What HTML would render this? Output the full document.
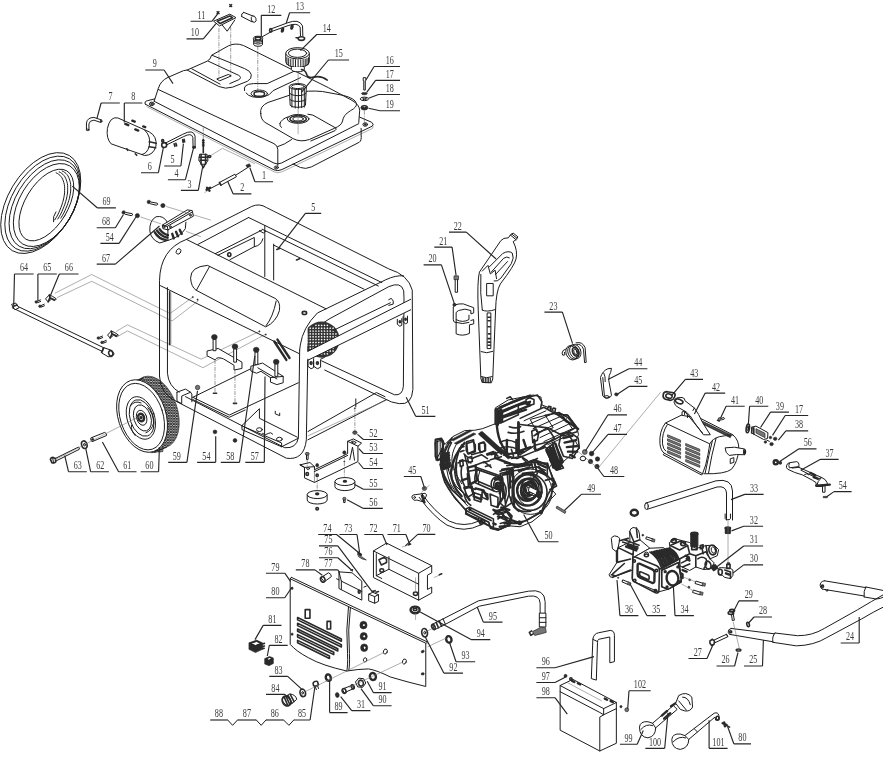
<!DOCTYPE html>
<html><head><meta charset="utf-8"><title>Parts diagram</title>
<style>
html,body{margin:0;padding:0;background:#fff;}
body{width:883px;height:757px;overflow:hidden;font-family:"Liberation Serif",serif;}
svg{display:block;}
.l{fill:none;stroke:#1c1c1c;stroke-width:1;vector-effect:non-scaling-stroke;stroke-linejoin:round;stroke-linecap:round}
.w{fill:#fff;stroke:#1c1c1c;stroke-width:1;vector-effect:non-scaling-stroke;stroke-linejoin:round}
.t{fill:none;stroke:#777;stroke-width:0.6;vector-effect:non-scaling-stroke}
.d{fill:none;stroke:#555;stroke-width:0.6;stroke-dasharray:4 1 1 1;vector-effect:non-scaling-stroke}
.k{fill:#2a2a2a;stroke:#2a2a2a;stroke-width:0.6;vector-effect:non-scaling-stroke}
.g{fill:#777;stroke:#2a2a2a;stroke-width:0.7;vector-effect:non-scaling-stroke}
.h{fill:none;stroke:#2a2a2a;stroke-width:1.6;vector-effect:non-scaling-stroke;stroke-linecap:round;stroke-linejoin:round}
.hh{fill:none;stroke:#2a2a2a;stroke-width:2.4;vector-effect:non-scaling-stroke;stroke-linecap:round;stroke-linejoin:round}
.ld{fill:none;stroke:#262626;stroke-width:1.15}
text{font-family:"Liberation Serif",serif;font-size:13.5px;fill:#3a3a3a;text-anchor:middle;}
</style></head><body>
<svg width="883" height="757" viewBox="0 0 883 757">
<rect width="883" height="757" fill="#fff"/>
<g transform="translate(140 40) scale(0.29445)"><path class="l" d="M18 218 Q13 208 26 206 L50 200 M18 218 L455 441 Q468 447 482 440 L788 293 Q797 286 786 279 L746 262"/><path class="t" d="M22 226 L456 448 Q468 454 484 447 L790 300 L792 290"/><ellipse class="l" cx="40" cy="217" rx="8" ry="6"/><ellipse class="k" cx="40" cy="217" rx="4" ry="3"/><ellipse class="l" cx="765" cy="287" rx="8" ry="6"/><ellipse class="k" cx="765" cy="287" rx="4" ry="3"/><ellipse class="l" cx="463" cy="433" rx="7" ry="5"/><ellipse class="k" cx="463" cy="433" rx="3" ry="2"/><path class="l" d="M520 421 L545 433 Q562 440 582 431 L745 347 Q753 342 751 322 L751 300"/><path class="l" d="M48 208 L62 165 Q70 138 95 127 L148 104 L160 102 L228 72 Q240 66 243 52 L300 20 Q325 8 352 19 L640 162 L720 205 Q746 220 746 240 L743 280"/><path class="l" d="M62 168 L455 352 Q468 358 468 372 L468 426 M468 362 Q490 356 515 338 M48 208 L455 418 Q466 424 480 418 L743 284"/><path class="l" d="M410 250 Q405 225 435 212 L530 180 Q570 170 620 175 L690 188 Q730 198 735 215 Q738 228 715 240 Q690 255 688 275 Q685 290 660 300 L575 338 Q545 348 520 335 L425 280 Q410 270 410 250 Z"/><path class="l" d="M475 284 Q480 268 503 261 M570 252 L587 255 L665 299 Q668 304 662 308 L580 343 M475 284 Q474 292 480 297"/><ellipse class="l" cx="537" cy="268" rx="37" ry="15"/><ellipse class="h" cx="537" cy="268" rx="28" ry="11"/><ellipse class="l" cx="537" cy="268" rx="18" ry="7"/><path class="l" d="M355 172 Q348 150 385 148 L432 148 L528 104 M360 180 Q375 200 420 193 Q442 188 452 172 L545 128"/><ellipse class="l" cx="405" cy="182" rx="28" ry="12"/><ellipse class="h" cx="405" cy="183" rx="18" ry="8"/><path class="l" d="M160 102 L268 158 Q290 168 315 160 L365 140 Q380 132 378 118 Q376 105 355 97 L245 52"/><path class="l" d="M232 72 L335 120 Q348 128 335 135 L305 148 M176 98 L272 150"/><path class="l" d="M262 132 L300 117 L310 122 L272 138 Z"/><path class="d" d="M268 -40 V130 M308 -45 V118 M400 20 V180 M762 240 V285"/><path class="t" d="M537 95 V320"/><path class="w" d="M495 45 V74 A40 19 0 0 0 575 74 V45 Z"/><ellipse class="w" cx="535" cy="45" rx="40" ry="19"/><ellipse class="l" cx="535" cy="45" rx="31" ry="14"/><path class="l" d="M499 60 V82 M505 63 V86 M512 65 V89 M520 66 V91 M528 67 V92 M537 67 V93 M546 67 V92 M554 66 V91 M561 65 V89 M567 63 V86 M572 60 V82"/><path class="w" d="M514 92 V100 A22 8 0 0 0 558 100 V92"/><path class="h" d="M548 100 Q562 102 566 116 Q570 131 590 126 Q615 120 636 136"/><path class="w" d="M507 158 L510 222 A27 9 0 0 0 562 222 L565 158 Z"/><ellipse class="w" cx="536" cy="158" rx="29" ry="10"/><ellipse class="l" cx="536" cy="158" rx="22" ry="7"/><path class="l" d="M516 166 V228 M527 168 V231 M538 168 V231 M549 168 V230 M558 167 V228 M508 180 A28 9 0 0 0 564 180 M509 202 A28 9 0 0 0 563 202"/><path class="w" d="M758 128 H767 V138 H765 V170 H760 V138 H758 Z"/><ellipse class="k" cx="762" cy="182" rx="10" ry="4"/><ellipse class="w" cx="762" cy="200" rx="14" ry="6"/><ellipse class="l" cx="762" cy="200" rx="6" ry="2.5"/><ellipse class="k" cx="762" cy="230" rx="12" ry="8"/><ellipse class="w" cx="762" cy="227" rx="7" ry="3"/></g>
<g transform="translate(140 0) scale(0.29445)"><path class="w" d="M250 72 L305 48 L326 60 L270 88 Z"/><path class="h" d="M262 72 L305 54 L314 60 L272 80 Z"/><path class="l" d="M280 86 L296 106 L322 68"/><path class="h" d="M262 40 l6 6 m0 -6 l-6 6 M305 16 l6 6 m0 -6 l-6 6"/><path class="l" d="M352 42 L388 56 M345 56 L380 74 M352 42 Q342 46 345 56"/><ellipse class="w" cx="386" cy="65" rx="8" ry="11" transform="rotate(-20 386 65)"/><path class="w" d="M386 132 V150 A15 7 0 0 0 416 150 V132"/><ellipse class="w" cx="401" cy="131" rx="16" ry="8"/><ellipse class="h" cx="401" cy="131" rx="10" ry="5"/><path class="l" d="M388 140 A15 7 0 0 0 414 140 M388 146 A15 7 0 0 0 414 146"/><path class="l" d="M415 125 L445 108"/><path class="l" d="M440 100 L500 78 Q540 62 552 88 L553 122 M444 108 L503 87 Q535 76 544 92 L545 122"/><ellipse class="h" cx="444" cy="103" rx="4" ry="6"/><ellipse class="h" cx="484" cy="102" rx="3" ry="7" transform="rotate(15 484 102)"/><ellipse class="h" cx="516" cy="92" rx="3" ry="7" transform="rotate(15 516 92)"/><ellipse class="h" cx="548" cy="131" rx="11" ry="6"/><path class="h" d="M530 128 h8"/></g>
<g transform="translate(70 95) scale(0.24915)"><path class="l" d="M66 140 V112 Q70 90 96 90 L126 100 M76 140 V116 Q78 102 96 101 L123 110"/><ellipse class="l" cx="71" cy="140" rx="5" ry="3"/><ellipse class="l" cx="125" cy="105" rx="3" ry="5"/><path class="w" d="M192 92 L318 148 Q350 165 345 205 Q335 242 300 243 L165 196 Q145 175 150 135 Q160 85 192 92 Z"/><path class="l" d="M300 141 Q326 165 318 205 Q310 236 288 239"/><path class="hh" d="M222 116 l12 5 M262 138 l12 5 M250 103 l10 4 M294 126 l8 3"/><path class="h" d="M318 188 l28 6 M318 208 l26 4 M262 236 l6 6 M228 216 l4 6"/><ellipse class="h" cx="378" cy="201" rx="10" ry="10"/><ellipse class="h" cx="372" cy="184" rx="4" ry="5"/><path class="h" d="M418 196 l3 10 M425 194 l3 10 M452 180 l2 10 M458 178 l2 10"/><path class="l" d="M385 192 L452 158 Q495 135 502 165 L502 208 M388 200 L456 167 Q488 150 493 170 L494 208"/><ellipse class="h" cx="498" cy="210" rx="5" ry="3"/><path class="h" d="M535 178 V232"/><path class="l" d="M531 183 h8 M531 190 h8 M531 197 h8 M531 204 h8"/><path class="w" d="M520 238 H550 L554 262 L544 278 H528 L517 262 Z"/><path class="h" d="M519 250 H553 M522 262 H550 M528 278 L535 292 L542 278 M526 238 V278 M544 238 V278"/><ellipse class="h" cx="560" cy="247" rx="5" ry="4"/><path class="t" d="M565 243 L612 214 L742 276"/><path class="d" d="M535 130 V178"/><path class="k" d="M706 282 l14 -6 l6 10 l-14 6 Z"/><path class="hh" d="M548 380 l14 -8 M550 372 l10 12"/><path class="l" d="M562 376 L600 356 M600 351 L662 318 L668 328 L606 362 Z M665 322 L712 292"/><path class="h" d="M600 351 L606 362"/><path class="t" d="M540 392 L556 382"/></g>
<g transform="translate(0 140) scale(0.24915)"></g>
<g transform="translate(0 250) scale(0.33975)"><path class="l" d="M40 160 L310 290 M36 170 L304 300"/><path class="w" d="M34 160 L46 156 L56 170 L44 176 Z"/><path class="h" d="M38 166 l12 -4"/><path class="w" d="M304 287 L330 296 L336 306 L330 314 L318 314 L298 302 Z"/><ellipse class="h" cx="326" cy="304" rx="6" ry="8" transform="rotate(-20 326 304)"/><path class="h" d="M305 289 L300 301"/></g>
<g transform="translate(30 360) scale(0.19253)"><defs><pattern id="tread" width="14" height="14" patternUnits="userSpaceOnUse" patternTransform="rotate(20)"><rect width="14" height="14" fill="#fff"/><path d="M0 0 L14 14 M14 0 L0 14" stroke="#2a2a2a" stroke-width="5.2"/></pattern></defs><g transform="translate(2 8)"><ellipse cx="648" cy="262" rx="116" ry="192" transform="rotate(-18 648 262)" fill="url(#tread)" stroke="#2a2a2a" stroke-width="3"/><path d="M520 108 L596 84 L700 300 L690 470 L626 476 Z" fill="url(#tread)"/><path class="l" d="M512 108 L584 88 M640 470 L706 446"/><ellipse class="w" cx="580" cy="283" rx="124" ry="194" transform="rotate(-18 580 283)"/><ellipse class="l" cx="578" cy="286" rx="111" ry="178" transform="rotate(-18 578 286)"/><ellipse class="l" cx="574" cy="293" rx="71" ry="114" transform="rotate(-18 574 293)"/><ellipse class="l" cx="578" cy="293" rx="60" ry="98" transform="rotate(-18 578 293)"/><ellipse class="l" cx="582" cy="293" rx="44" ry="70" transform="rotate(-18 582 293)"/><ellipse class="l" cx="578" cy="292" rx="26" ry="40" transform="rotate(-18 578 292)"/><ellipse class="hh" cx="575" cy="291" rx="15" ry="20" transform="rotate(-18 575 291)"/><ellipse class="k" cx="575" cy="291" rx="6" ry="8" transform="rotate(-18 575 291)"/><path class="l" d="M520 230 Q540 200 575 215 M600 370 Q630 360 640 320 M525 330 Q520 360 545 385 M610 240 Q640 270 640 320"/></g><path class="w" d="M318 404 L388 376 Q398 380 398 392 L328 422 Z"/><ellipse class="w" cx="323" cy="413" rx="7" ry="11" transform="rotate(-20 323 413)"/><ellipse class="l" cx="323" cy="413" rx="3" ry="5" transform="rotate(-20 323 413)"/><ellipse class="h" cx="282" cy="440" rx="14" ry="20" transform="rotate(-15 282 440)"/><ellipse class="l" cx="283" cy="440" rx="5" ry="7" transform="rotate(-15 283 440)"/><path class="l" d="M130 512 L252 452 Q258 456 256 464 L136 524"/><path class="h" d="M106 516 Q108 506 120 506 L132 512 L134 528 Q126 538 114 534 Z"/><path class="l" d="M118 508 L122 534"/><path class="t" d="M130 518 L570 292"/></g>
<g transform="translate(0 145) scale(0.15200)"><ellipse class="w" cx="268" cy="382" rx="215" ry="365" transform="rotate(31 268 382)"/><ellipse class="l" cx="280" cy="386" rx="203" ry="344" transform="rotate(31 280 386)"/><ellipse class="l" cx="292" cy="390" rx="190" ry="322" transform="rotate(31 292 390)"/><ellipse class="l" cx="305" cy="395" rx="178" ry="300" transform="rotate(31 305 395)"/><ellipse class="l" cx="305" cy="395" rx="140" ry="262" transform="rotate(31 305 395)"/><path class="l" d="M409 171 L418 175 L426 181 L434 187 L441 195 L447 203 L452 213 L456 223 L460 235 L463 247 L465 260 L465 273 L465 288 L465 303 L463 318 L460 334 L457 350 L452 366 L447 383 L441 399 L434 416 L427 433 L419 449 L410 465 L400 481"/><path class="l" d="M389 177 L398 181 L406 187 L414 193 L421 201 L427 209 L432 219 L436 229 L440 241 L443 253 L445 266 L445 279 L445 294 L445 309 L443 324 L440 340 L437 356 L432 372 L427 389 L421 405 L414 422 L407 439 L399 455 L390 471 L380 487"/><path class="l" d="M369 183 L378 187 L386 193 L394 199 L401 207 L407 215 L412 225 L416 235 L420 247 L423 259 L425 272 L425 285 L425 300 L425 315 L423 330 L420 346 L417 362 L412 378 L407 395 L401 411 L394 428 L387 445 L379 461 L370 477 L360 493"/><path class="l" d="M352 505 Q345 470 368 440"/></g>
<g transform="translate(100 190) scale(0.12458)"><path class="w" d="M545 265 Q510 200 450 215 Q395 245 400 330 Q410 400 480 425 L560 400 Q650 370 685 310 L690 255"/><path class="w" d="M500 282 L700 160 L740 165 L750 210 L545 320 L505 310 Z"/><path class="l" d="M520 288 L722 170 M500 282 L540 292 L545 320 M540 292 L735 180"/><ellipse class="l" cx="565" cy="296" rx="7" ry="8"/><ellipse class="l" cx="725" cy="202" rx="7" ry="8"/><ellipse class="l" cx="516" cy="296" rx="6" ry="7"/><path class="hh" d="M440 340 Q470 392 530 402 M458 326 Q490 372 540 382 M478 314 Q505 352 545 362"/><path class="hh" d="M580 352 L592 388 M610 336 L626 372 M640 320 L656 352"/><path class="l" d="M545 320 V405"/><ellipse class="k" cx="190" cy="180" rx="14" ry="14"/><path class="w" d="M204 180 L258 190 L262 200 L250 206 L200 194"/><ellipse class="k" cx="300" cy="206" rx="17" ry="17"/><ellipse class="k" cx="392" cy="96" rx="14" ry="14"/><path class="w" d="M406 96 L460 106 L464 116 L452 122 L402 110"/><ellipse class="k" cx="505" cy="125" rx="17" ry="17"/><path class="t" d="M325 216 L490 272 M530 132 L890 242 M690 332 L812 376"/></g>
<g transform="translate(0 0) scale(1.00000)"><path class="t" d="M55 293.2 L91.7 274.5 L170 313.5 L192.7 297.2 M57 297.6 L91.7 281.3 L172 321 L198.6 300.6 M116.2 331.5 L127.4 324.8 L201.2 359.2 L259.8 331.2 M117.6 336.6 L127.4 330.9 L202.9 367.7 L265.7 334.2"/></g>
<g transform="translate(20 270) scale(0.12458)"><g transform="translate(0 0)"><path class="w" d="M205 232 L235 200 L262 212 L292 232 L278 246 L252 234 L226 256 Z"/><path class="h" d="M235 200 L240 222 L226 256 M240 222 L278 240"/><ellipse class="k" cx="130" cy="256" rx="10" ry="10"/><path class="l" d="M140 250 l24 -10 M142 262 l24 -10"/><ellipse class="k" cx="160" cy="291" rx="10" ry="10"/><path class="l" d="M170 285 l24 -10 M172 297 l24 -10"/></g><g transform="translate(498 290)"><path class="w" d="M205 232 L235 200 L262 212 L292 232 L278 246 L252 234 L226 256 Z"/><path class="h" d="M235 200 L240 222 L226 256 M240 222 L278 240"/><ellipse class="k" cx="130" cy="256" rx="10" ry="10"/><path class="l" d="M140 250 l24 -10 M142 262 l24 -10"/><ellipse class="k" cx="160" cy="291" rx="10" ry="10"/><path class="l" d="M170 285 l24 -10 M172 297 l24 -10"/></g></g>
<g transform="translate(150 195) scale(0.31710)"><path class="l" d="M30 572 L30 270 Q32 171 115 140 L321 36 Q345 25 368 40 L753 233 Q815 252 827 300 L829 613 Q826 663 786 658 Q760 655 741 643 L551 552"/><path class="l" d="M151 156 L311 71 M206 185 L354 110 M214 190 L329 134 V163 M252 204 L329 163 Q350 160 356 138"/><path class="l" d="M362 96 V257 M390 155 V268 M345 112 l12 8 l8 -6"/><ellipse class="h" cx="250" cy="188" rx="5" ry="6"/><path class="l" d="M115 140 L555 359"/><path class="l" d="M311 71 L731 276 M354 108 L720 287 M390 158 L675 297"/><path class="h" d="M400 172 l10 -4 M462 205 l10 -4"/><path class="l" d="M33 286 L470 500"/><ellipse class="k" cx="135" cy="322" rx="2" ry="2"/><ellipse class="k" cx="150" cy="330" rx="2" ry="2"/><ellipse class="k" cx="345" cy="430" rx="2" ry="2"/><ellipse class="k" cx="365" cy="440" rx="2" ry="2"/><ellipse class="l" cx="90" cy="178" rx="7" ry="9" transform="rotate(30 90 178)"/><ellipse class="h" cx="487" cy="372" rx="7" ry="5"/><path class="l" d="M180 222 Q128 226 128 262 Q130 290 145 300 L365 416 Q398 400 408 365 Q412 338 398 328 Z"/><path class="l" d="M188 225 L147 299 M398 334 Q388 385 366 412"/><path class="l" d="M55 292 L55 562 Q58 602 92 622"/><path class="h" d="M62 305 V472"/><path class="t" d="M66 308 V470"/><path class="l" d="M30 572 Q32 628 85 652 L430 830 Q486 838 493 772 L498 489 M112 636 L425 797 Q462 800 468 765 L472 489"/><path class="l" d="M472 489 L474 473 Q482 418 528 372 L555 359 L742 268 Q775 252 800 255 M498 489 V473 Q505 425 565 391 L753 289 Q792 272 800 302 L801 324 L799 603 Q797 633 771 630 L541 523"/><path class="l" d="M753 330 l8 -4 l6 8 v10 l-14 4 "/><path class="l" d="M498 746 L714 623 L741 636 M498 772 L746 645 M649 643 V668"/><path class="t" d="M497 760 L750 645"/><path class="l" d="M780 392 V408 l8 6 l6 -3 V390 M798 384 V400 l8 6 l6 -3 V382"/><ellipse class="h" cx="788" cy="400" rx="2" ry="3"/><ellipse class="h" cx="806" cy="392" rx="2" ry="3"/><clipPath id="cg"><path d="M497 380 H700 V620 H497 Z"/></clipPath><g clip-path="url(#cg)"><circle cx="541" cy="456" r="57" fill="#333"/><rect x="521" y="409" width="4.5" height="4.5" fill="#fff" transform="rotate(-25 523 411)"/><rect x="530" y="409" width="4.5" height="4.5" fill="#fff" transform="rotate(-25 532 411)"/><rect x="539" y="409" width="4.5" height="4.5" fill="#fff" transform="rotate(-25 541 411)"/><rect x="548" y="409" width="4.5" height="4.5" fill="#fff" transform="rotate(-25 550 411)"/><rect x="557" y="409" width="4.5" height="4.5" fill="#fff" transform="rotate(-25 559 411)"/><rect x="503" y="418" width="4.5" height="4.5" fill="#fff" transform="rotate(-25 505 420)"/><rect x="512" y="418" width="4.5" height="4.5" fill="#fff" transform="rotate(-25 514 420)"/><rect x="521" y="418" width="4.5" height="4.5" fill="#fff" transform="rotate(-25 523 420)"/><rect x="530" y="418" width="4.5" height="4.5" fill="#fff" transform="rotate(-25 532 420)"/><rect x="539" y="418" width="4.5" height="4.5" fill="#fff" transform="rotate(-25 541 420)"/><rect x="548" y="418" width="4.5" height="4.5" fill="#fff" transform="rotate(-25 550 420)"/><rect x="557" y="418" width="4.5" height="4.5" fill="#fff" transform="rotate(-25 559 420)"/><rect x="566" y="418" width="4.5" height="4.5" fill="#fff" transform="rotate(-25 568 420)"/><rect x="575" y="418" width="4.5" height="4.5" fill="#fff" transform="rotate(-25 577 420)"/><rect x="503" y="427" width="4.5" height="4.5" fill="#fff" transform="rotate(-25 505 429)"/><rect x="512" y="427" width="4.5" height="4.5" fill="#fff" transform="rotate(-25 514 429)"/><rect x="521" y="427" width="4.5" height="4.5" fill="#fff" transform="rotate(-25 523 429)"/><rect x="530" y="427" width="4.5" height="4.5" fill="#fff" transform="rotate(-25 532 429)"/><rect x="539" y="427" width="4.5" height="4.5" fill="#fff" transform="rotate(-25 541 429)"/><rect x="548" y="427" width="4.5" height="4.5" fill="#fff" transform="rotate(-25 550 429)"/><rect x="557" y="427" width="4.5" height="4.5" fill="#fff" transform="rotate(-25 559 429)"/><rect x="566" y="427" width="4.5" height="4.5" fill="#fff" transform="rotate(-25 568 429)"/><rect x="575" y="427" width="4.5" height="4.5" fill="#fff" transform="rotate(-25 577 429)"/><rect x="494" y="436" width="4.5" height="4.5" fill="#fff" transform="rotate(-25 496 438)"/><rect x="503" y="436" width="4.5" height="4.5" fill="#fff" transform="rotate(-25 505 438)"/><rect x="512" y="436" width="4.5" height="4.5" fill="#fff" transform="rotate(-25 514 438)"/><rect x="521" y="436" width="4.5" height="4.5" fill="#fff" transform="rotate(-25 523 438)"/><rect x="530" y="436" width="4.5" height="4.5" fill="#fff" transform="rotate(-25 532 438)"/><rect x="539" y="436" width="4.5" height="4.5" fill="#fff" transform="rotate(-25 541 438)"/><rect x="548" y="436" width="4.5" height="4.5" fill="#fff" transform="rotate(-25 550 438)"/><rect x="557" y="436" width="4.5" height="4.5" fill="#fff" transform="rotate(-25 559 438)"/><rect x="566" y="436" width="4.5" height="4.5" fill="#fff" transform="rotate(-25 568 438)"/><rect x="575" y="436" width="4.5" height="4.5" fill="#fff" transform="rotate(-25 577 438)"/><rect x="584" y="436" width="4.5" height="4.5" fill="#fff" transform="rotate(-25 586 438)"/><rect x="494" y="445" width="4.5" height="4.5" fill="#fff" transform="rotate(-25 496 447)"/><rect x="503" y="445" width="4.5" height="4.5" fill="#fff" transform="rotate(-25 505 447)"/><rect x="512" y="445" width="4.5" height="4.5" fill="#fff" transform="rotate(-25 514 447)"/><rect x="521" y="445" width="4.5" height="4.5" fill="#fff" transform="rotate(-25 523 447)"/><rect x="530" y="445" width="4.5" height="4.5" fill="#fff" transform="rotate(-25 532 447)"/><rect x="539" y="445" width="4.5" height="4.5" fill="#fff" transform="rotate(-25 541 447)"/><rect x="548" y="445" width="4.5" height="4.5" fill="#fff" transform="rotate(-25 550 447)"/><rect x="557" y="445" width="4.5" height="4.5" fill="#fff" transform="rotate(-25 559 447)"/><rect x="566" y="445" width="4.5" height="4.5" fill="#fff" transform="rotate(-25 568 447)"/><rect x="575" y="445" width="4.5" height="4.5" fill="#fff" transform="rotate(-25 577 447)"/><rect x="584" y="445" width="4.5" height="4.5" fill="#fff" transform="rotate(-25 586 447)"/><rect x="494" y="454" width="4.5" height="4.5" fill="#fff" transform="rotate(-25 496 456)"/><rect x="503" y="454" width="4.5" height="4.5" fill="#fff" transform="rotate(-25 505 456)"/><rect x="512" y="454" width="4.5" height="4.5" fill="#fff" transform="rotate(-25 514 456)"/><rect x="521" y="454" width="4.5" height="4.5" fill="#fff" transform="rotate(-25 523 456)"/><rect x="530" y="454" width="4.5" height="4.5" fill="#fff" transform="rotate(-25 532 456)"/><rect x="539" y="454" width="4.5" height="4.5" fill="#fff" transform="rotate(-25 541 456)"/><rect x="548" y="454" width="4.5" height="4.5" fill="#fff" transform="rotate(-25 550 456)"/><rect x="557" y="454" width="4.5" height="4.5" fill="#fff" transform="rotate(-25 559 456)"/><rect x="566" y="454" width="4.5" height="4.5" fill="#fff" transform="rotate(-25 568 456)"/><rect x="575" y="454" width="4.5" height="4.5" fill="#fff" transform="rotate(-25 577 456)"/><rect x="584" y="454" width="4.5" height="4.5" fill="#fff" transform="rotate(-25 586 456)"/><rect x="494" y="463" width="4.5" height="4.5" fill="#fff" transform="rotate(-25 496 465)"/><rect x="503" y="463" width="4.5" height="4.5" fill="#fff" transform="rotate(-25 505 465)"/><rect x="512" y="463" width="4.5" height="4.5" fill="#fff" transform="rotate(-25 514 465)"/><rect x="521" y="463" width="4.5" height="4.5" fill="#fff" transform="rotate(-25 523 465)"/><rect x="530" y="463" width="4.5" height="4.5" fill="#fff" transform="rotate(-25 532 465)"/><rect x="539" y="463" width="4.5" height="4.5" fill="#fff" transform="rotate(-25 541 465)"/><rect x="548" y="463" width="4.5" height="4.5" fill="#fff" transform="rotate(-25 550 465)"/><rect x="557" y="463" width="4.5" height="4.5" fill="#fff" transform="rotate(-25 559 465)"/><rect x="566" y="463" width="4.5" height="4.5" fill="#fff" transform="rotate(-25 568 465)"/><rect x="575" y="463" width="4.5" height="4.5" fill="#fff" transform="rotate(-25 577 465)"/><rect x="584" y="463" width="4.5" height="4.5" fill="#fff" transform="rotate(-25 586 465)"/><rect x="494" y="472" width="4.5" height="4.5" fill="#fff" transform="rotate(-25 496 474)"/><rect x="503" y="472" width="4.5" height="4.5" fill="#fff" transform="rotate(-25 505 474)"/><rect x="512" y="472" width="4.5" height="4.5" fill="#fff" transform="rotate(-25 514 474)"/><rect x="521" y="472" width="4.5" height="4.5" fill="#fff" transform="rotate(-25 523 474)"/><rect x="530" y="472" width="4.5" height="4.5" fill="#fff" transform="rotate(-25 532 474)"/><rect x="539" y="472" width="4.5" height="4.5" fill="#fff" transform="rotate(-25 541 474)"/><rect x="548" y="472" width="4.5" height="4.5" fill="#fff" transform="rotate(-25 550 474)"/><rect x="557" y="472" width="4.5" height="4.5" fill="#fff" transform="rotate(-25 559 474)"/><rect x="566" y="472" width="4.5" height="4.5" fill="#fff" transform="rotate(-25 568 474)"/><rect x="575" y="472" width="4.5" height="4.5" fill="#fff" transform="rotate(-25 577 474)"/><rect x="584" y="472" width="4.5" height="4.5" fill="#fff" transform="rotate(-25 586 474)"/><rect x="503" y="481" width="4.5" height="4.5" fill="#fff" transform="rotate(-25 505 483)"/><rect x="512" y="481" width="4.5" height="4.5" fill="#fff" transform="rotate(-25 514 483)"/><rect x="521" y="481" width="4.5" height="4.5" fill="#fff" transform="rotate(-25 523 483)"/><rect x="530" y="481" width="4.5" height="4.5" fill="#fff" transform="rotate(-25 532 483)"/><rect x="539" y="481" width="4.5" height="4.5" fill="#fff" transform="rotate(-25 541 483)"/><rect x="548" y="481" width="4.5" height="4.5" fill="#fff" transform="rotate(-25 550 483)"/><rect x="557" y="481" width="4.5" height="4.5" fill="#fff" transform="rotate(-25 559 483)"/><rect x="566" y="481" width="4.5" height="4.5" fill="#fff" transform="rotate(-25 568 483)"/><rect x="575" y="481" width="4.5" height="4.5" fill="#fff" transform="rotate(-25 577 483)"/><rect x="503" y="490" width="4.5" height="4.5" fill="#fff" transform="rotate(-25 505 492)"/><rect x="512" y="490" width="4.5" height="4.5" fill="#fff" transform="rotate(-25 514 492)"/><rect x="521" y="490" width="4.5" height="4.5" fill="#fff" transform="rotate(-25 523 492)"/><rect x="530" y="490" width="4.5" height="4.5" fill="#fff" transform="rotate(-25 532 492)"/><rect x="539" y="490" width="4.5" height="4.5" fill="#fff" transform="rotate(-25 541 492)"/><rect x="548" y="490" width="4.5" height="4.5" fill="#fff" transform="rotate(-25 550 492)"/><rect x="557" y="490" width="4.5" height="4.5" fill="#fff" transform="rotate(-25 559 492)"/><rect x="566" y="490" width="4.5" height="4.5" fill="#fff" transform="rotate(-25 568 492)"/><rect x="575" y="490" width="4.5" height="4.5" fill="#fff" transform="rotate(-25 577 492)"/><rect x="521" y="499" width="4.5" height="4.5" fill="#fff" transform="rotate(-25 523 501)"/><rect x="530" y="499" width="4.5" height="4.5" fill="#fff" transform="rotate(-25 532 501)"/><rect x="539" y="499" width="4.5" height="4.5" fill="#fff" transform="rotate(-25 541 501)"/><rect x="548" y="499" width="4.5" height="4.5" fill="#fff" transform="rotate(-25 550 501)"/><rect x="557" y="499" width="4.5" height="4.5" fill="#fff" transform="rotate(-25 559 501)"/></g><path d="M494 495 L822 329 L822 362 L496 522 Z" fill="#fff"/><path class="l" d="M576 428 L758 340 M498 493 L822 329 M498 521 L822 362"/><path class="l" d="M498 518 v22 l10 8 l8 -4 v-20 M516 516 v24 l12 8 l10 -5 v-22 M538 518 l12 -6"/><ellipse class="h" cx="508" cy="530" rx="3" ry="4"/><ellipse class="h" cx="528" cy="530" rx="3" ry="4"/><path class="hh" d="M392 462 L430 520 M402 456 L440 514"/><path class="l" d="M135 638 L330 542 M135 638 L250 694 L468 592 M135 645 L250 701 L300 678"/><path class="l" d="M85 622 V650 L100 658 V634 L128 622 L132 628 L132 652 M85 622 L112 612 L128 622"/><ellipse class="g" cx="150" cy="607" rx="7" ry="7"/><path class="l" d="M290 727 L345 674 V704 L465 764 M290 727 V740 L415 794 L468 767 M415 794 V782 L292 729 M395 682 v8 l14 6 v-8"/><ellipse class="l" cx="345" cy="740" rx="9" ry="6"/><ellipse class="l" cx="408" cy="770" rx="9" ry="6"/><path class="l" d="M355 752 q10 8 18 0 q8 -6 14 2"/><path class="w" d="M180 492 L215 484 L290 527 V547 L265 552 V537 L232 517 Q212 508 205 520 L180 507 Z"/><path class="w" d="M199 455 h9 v36 h-9 Z M264 485 h9 v42 h-9 Z"/><ellipse class="k" cx="203" cy="448" rx="9" ry="8"/><ellipse class="k" cx="268" cy="478" rx="9" ry="8"/><path class="d" d="M205 520 V625 M268 552 V658"/><path class="h" d="M200 625 h10 M263 657 h10"/><path class="w" d="M318 540 L355 530 L420 572 V592 L400 598 L380 590 V576 L350 556 L336 562 L318 555 Z"/><path class="l" d="M340 545 L400 580 M380 576 L420 572"/><path class="w" d="M331 495 h9 v40 h-9 Z M394 532 h9 v40 h-9 Z"/><ellipse class="k" cx="335" cy="488" rx="9" ry="8"/><ellipse class="k" cx="398" cy="526" rx="9" ry="8"/><ellipse class="k" cx="205" cy="747" rx="6" ry="6"/><ellipse class="k" cx="268" cy="774" rx="6" ry="6"/></g>
<g transform="translate(290 400) scale(0.18120)"><path class="w" d="M55 358 L110 345 L135 368 V455 L80 430 V372 Z"/><path class="l" d="M80 372 L135 368 M55 358 L80 372"/><path class="w" d="M135 385 L318 296 V228 L350 215 L395 238 L375 255 V340 L135 455"/><path class="l" d="M318 228 L375 255 M330 330 L345 260 L356 332 M135 395 L318 306"/><path class="l" d="M340 232 l16 8 l10 -5 l-16 -8 Z"/><ellipse class="g" cx="358" cy="180" rx="12" ry="10"/><ellipse class="w" cx="358" cy="178" rx="6" ry="4"/><ellipse class="k" cx="300" cy="290" rx="9" ry="10"/><ellipse class="g" cx="95" cy="297" rx="11" ry="8"/><path class="l" d="M91 304 V328 h9 V304"/><ellipse class="k" cx="150" cy="360" rx="8" ry="10"/><ellipse class="h" cx="95" cy="408" rx="7" ry="8"/><ellipse class="h" cx="150" cy="415" rx="6" ry="7"/><ellipse class="l" cx="100" cy="378" rx="8" ry="5"/><path class="d" d="M358 45 V168 M300 305 V440 M150 428 V512 M95 330 V375"/><ellipse class="k" cx="358" cy="45" rx="4" ry="2"/><ellipse class="k" cx="300" cy="340" rx="4" ry="2"/><path class="w" d="M248 450 V478 A55 22 0 0 0 358 478 V450"/><ellipse class="w" cx="303" cy="450" rx="55" ry="22"/><ellipse class="h" cx="303" cy="448" rx="8" ry="4"/><path class="w" d="M95 522 V552 A55 22 0 0 0 205 552 V522"/><ellipse class="w" cx="150" cy="522" rx="55" ry="22"/><ellipse class="h" cx="150" cy="518" rx="8" ry="4"/><ellipse class="g" cx="300" cy="545" rx="9" ry="8"/><path class="l" d="M296 552 v14 h8 v-14"/><ellipse class="h" cx="150" cy="600" rx="7" ry="7"/><ellipse class="g" cx="742" cy="488" rx="12" ry="11"/><ellipse class="w" cx="742" cy="486" rx="5" ry="4"/><path class="t" d="M725 510 L770 470"/><path class="w" d="M672 535 Q675 520 695 522 L745 515 Q760 520 750 535 L728 560 L700 552 Q680 560 672 535 Z"/><ellipse class="l" cx="688" cy="538" rx="5" ry="5"/><path class="hh" d="M728 528 L742 565"/></g>
<g transform="translate(420 215) scale(0.23769)"><path class="w" d="M250 240 L340 108 Q350 95 372 96 L380 84 L392 76 L412 92 L404 104 L392 112 Q412 150 404 185 Q398 212 338 290 Q320 320 318 400 L306 690 L300 706 L262 704 L256 688 L245 400 Q240 280 250 240 Z"/><path class="l" d="M380 84 L404 104 M386 80 L408 98"/><path class="l" d="M292 218 L348 162 Q372 148 388 160 Q398 180 384 205 L340 266 Q325 282 312 278"/><path class="l" d="M300 240 L352 182 Q366 172 376 180 M318 250 L368 196 M262 236 L286 212 L296 248 L316 232 L322 268"/><path class="l" d="M282 288 h26 v52 h-26 Z"/><path class="l" d="M256 250 Q252 330 262 400 M262 400 Q280 410 316 398"/><path class="l" d="M284 412 h14 v150 h-14 Z"/><path class="h" d="M286 430 h10 M286 445 h10 M286 470 h10 M288 500 h8 M286 520 h10 M286 535 h10 M286 548 h10"/><path class="l" d="M257 575 Q280 585 306 574 M258 680 Q280 690 304 680"/><path class="l" d="M262 684 V704 M268 686 V705 M275 687 V706 M282 687 V706 M289 687 V706 M296 686 V705"/><path class="g" d="M143 256 h19 v16 h-19 Z"/><path class="l" d="M148 272 V325 h10 V272"/><path class="w" d="M140 390 Q142 372 182 374 L226 390 V412 L214 416 V402 Q190 390 162 402 L152 410 V440 Q180 455 206 440 V420"/><path class="l" d="M140 390 V440 Q142 455 152 452 M152 440 V500 Q180 512 208 498 V462 L226 458 V440 L214 444 M152 452 Q180 462 206 452"/><ellipse class="h" cx="145" cy="378" rx="5" ry="4"/></g>
<g transform="translate(0 0) scale(1.00000)"><ellipse class="g" cx="584.8" cy="452" rx="2.4" ry="2.4"/><ellipse class="k" cx="591.6" cy="453.6" rx="2.3" ry="2.3"/><ellipse class="l" cx="583" cy="458.5" rx="2.8" ry="2.3"/><ellipse class="k" cx="590.5" cy="461.5" rx="2.2" ry="2.2"/><ellipse class="k" cx="597.5" cy="459" rx="2.2" ry="2.2"/><ellipse class="k" cx="597" cy="466.5" rx="2.2" ry="2.2"/><path class="t" d="M599 467 L660.6 392.2 M575 449 L600 470"/><path class="g" d="M556 508 L565 513.5 L566 511.5 L557 506 Z"/></g>
<g transform="translate(540 330) scale(0.13590)"><path class="w" d="M262 95 Q312 82 332 130 L340 238 L328 240 L320 142 Q305 100 268 106"/><ellipse class="l" cx="232" cy="168" rx="40" ry="54" transform="rotate(-22 232 168)"/><ellipse class="l" cx="246" cy="163" rx="40" ry="54" transform="rotate(-22 246 163)"/><ellipse class="l" cx="260" cy="158" rx="40" ry="54" transform="rotate(-22 260 158)"/><ellipse class="h" cx="262" cy="160" rx="22" ry="34" transform="rotate(-22 262 160)"/><ellipse class="l" cx="262" cy="160" rx="12" ry="22" transform="rotate(-22 262 160)"/><path class="l" d="M190 140 Q165 145 162 170 L168 186 L184 182 L180 165"/><path class="w" d="M445 350 Q460 300 500 285 L526 282 L520 312 Q505 332 506 370 L526 480 Q516 506 480 500 L462 486 Z"/><path class="l" d="M470 318 Q482 340 480 380 M462 350 L474 486"/><ellipse class="l" cx="492" cy="492" rx="17" ry="9"/><path class="k" d="M548 470 l10 -8 l14 4 l4 12 l-10 8 l-14 -4 Z"/></g>
<g transform="translate(425 395) scale(0.19814)"><path class="w" d="M355 65 L420 25 L470 15 L545 0 L585 10 L590 50 L640 70 L660 95 L720 100 L765 160 L775 200 L760 235 L780 270 L740 300 L700 335 L640 348 L625 370 L640 400 L652 440 L642 480 L660 500 L602 560 L590 600 L540 640 L480 665 L420 660 L370 682 L330 672 L322 642 L205 600 L205 580 L150 522 L100 440 L76 350 L86 270 L56 330 L50 240 L90 225 L100 250 L140 210 L200 180 L250 178 L290 170 L355 145 Z"/><path class="h" d="M480 118 L600 62 L660 96 L720 102 L765 162 L640 232 L560 252 L480 300"/><path class="l" d="M500 130 L610 80 M520 150 L640 96 M545 170 L680 110 M560 195 L715 120 M580 215 L740 140 M600 235 L755 165 M620 250 L700 215"/><path class="h" d="M86 270 Q70 360 100 440 Q130 500 205 580"/><path class="l" d="M110 300 Q100 380 130 450 Q160 510 215 560 M140 212 Q100 250 92 300"/><path class="h" d="M205 582 L322 642 L330 672 L370 682 L420 660 M205 600 L322 660"/></g>
<g transform="translate(430 395) scale(0.11325)"><path class="hh" d="M50 395 L100 385 L115 430 L110 560 L65 575 L50 540 Z"/><path class="l" d="M68 405 V560 M90 400 V555"/><path class="k" d="M185 395 L350 308 L372 316 L205 405 Z M215 425 L385 335 L405 345 L235 437 Z"/><path class="k" d="M440 330 L462 322 L715 552 L690 565 Z"/><path class="hh" d="M590 270 Q600 380 640 450 L680 510"/><path class="hh" d="M580 130 L700 75 L883 5 M580 130 V255 L600 262 M640 150 L770 92 L883 60 M650 186 L883 92"/><path class="h" d="M592 140 V250 M602 136 V252 M612 132 V250 M622 128 V248 M632 124 V246 M640 150 V240 L780 175 V95"/><path class="hh" d="M780 240 V530"/><path class="h" d="M190 420 Q140 500 150 600 L165 662 M160 420 L190 420"/><path class="l" d="M230 440 Q185 520 195 600 L205 662"/><path class="hh" d="M100 565 L165 545 M104 590 L170 570 M108 615 L172 596 M114 640 L176 620"/><path class="h" d="M320 430 L380 410 L400 440 L400 500 L340 520 L320 490 Z M430 430 L470 415 L490 440 L490 490 L450 505 L430 480 Z M300 520 Q330 560 380 560 M500 520 L560 500 L600 540 M250 600 Q300 560 360 600 M400 620 L480 590 L540 640 M260 470 l40 -15 M270 500 l30 -10"/><path class="h" d="M700 280 Q760 300 800 280 M690 330 Q760 350 830 320 M720 560 L800 540 L860 580 M700 600 L780 640"/></g>
<g transform="translate(500 395) scale(0.11325)"><path class="hh" d="M0 110 L200 25 M0 150 L220 60 L260 80 M20 200 L230 130"/><path class="h" d="M60 30 l30 -15 l20 25 M230 40 L260 25 L300 40 L300 80 L260 95 L230 80 Z M250 20 L330 0 L370 60 L360 110 M420 120 l10 -20 l20 5 l-5 30 M460 135 l10 -20 l20 5 l-5 30"/><path class="h" d="M400 180 L520 155 L600 200 L685 295 L680 325 L560 362 L440 300"/><path class="hh" d="M490 160 L690 300"/><path class="l" d="M520 155 L600 240 L640 300 M560 175 L575 235 L610 250 M270 215 L400 180 L470 290 L330 330 Z"/><path class="h" d="M180 260 L420 290 L480 380 L330 490 L300 470 M420 290 L300 360 M280 320 l40 -20 l20 40 l-10 60 l-40 20 Z"/><path class="hh" d="M165 250 V520"/><path class="hh" d="M415 470 L470 640 M440 455 L500 630 M465 440 L525 615 M490 430 L545 600"/><path class="h" d="M405 480 L480 420 L560 590 L480 650 Z"/><path class="h" d="M540 340 L620 330 L690 380 L700 460 L640 560 L560 540 L520 440 Z M600 340 L650 420 L640 520"/><path class="hh" d="M560 380 L640 360 M570 420 L670 400 M590 460 L690 450 M600 500 L680 500 M620 530 L660 550"/><path class="h" d="M0 420 Q60 380 140 420 M0 470 Q80 440 160 480 M30 530 L150 560 L300 500 M40 600 L200 620 L330 560 M200 560 l40 40 M100 480 l20 60"/></g>
<g transform="translate(430 460) scale(0.11325)"><path class="h" d="M420 85 L610 150 M400 200 L560 272 M420 85 Q385 140 400 200 M340 100 L420 85 M330 120 L340 240 L400 260"/><ellipse class="h" cx="590" cy="215" rx="50" ry="66"/><ellipse class="h" cx="598" cy="225" rx="22" ry="26"/><path class="l" d="M440 95 Q415 150 430 212"/><path class="h" d="M90 40 Q100 130 180 250 L310 372"/><path class="l" d="M150 30 Q160 120 230 230 L330 330 M200 30 Q215 110 280 210"/><path class="hh" d="M100 20 L150 0 M110 50 L160 30 M120 80 L170 60"/><path class="h" d="M300 240 L360 230 L380 300 L330 330 Z M390 290 l60 20 v60 l-60 -20 Z M460 280 l50 20 v50 l-50 -20 Z M300 300 Q320 380 360 400 M530 300 L600 330 L600 420 L540 400 Z M620 120 L700 100 L740 160 L720 380 L660 420 L620 380 Z M650 200 Q690 260 660 340"/><path class="hh" d="M640 130 L700 120 M630 420 L700 440 M560 440 L640 470"/><ellipse class="h" cx="883" cy="250" rx="80" ry="90"/><ellipse class="hh" cx="883" cy="250" rx="50" ry="56"/><path class="h" d="M320 430 L350 418 L560 520 L560 600 L620 612 L660 585 M320 430 V470 L560 600 M350 418 V440 L540 535 M560 480 L620 440 L700 470 M600 520 Q640 480 700 520 M620 560 l40 -10 l30 20"/><ellipse class="l" cx="350" cy="438" rx="10" ry="7"/><path class="hh" d="M580 470 l30 10 M600 500 l40 10 M560 560 l20 8"/><path class="l" d="M-70 300 Q40 460 170 540 Q300 600 430 540 M-95 330 Q30 500 150 575 Q300 650 450 572"/><path class="h" d="M430 540 L470 525 L485 555 L448 572 Z"/><path class="l" d="M440 535 l14 30 M455 530 l14 30"/></g>
<g transform="translate(500 460) scale(0.11325)"><path class="h" d="M420 30 L480 210 L425 300 L365 460 L180 560 L40 560 M400 180 L470 160 L500 230 L440 260"/><ellipse class="h" cx="470" cy="215" rx="10" ry="10"/><ellipse class="h" cx="360" cy="462" rx="10" ry="10"/><ellipse class="h" cx="175" cy="560" rx="10" ry="10"/><ellipse class="l" cx="270" cy="280" rx="190" ry="200"/><ellipse class="h" cx="265" cy="285" rx="150" ry="160"/><ellipse class="l" cx="262" cy="285" rx="110" ry="118"/><ellipse class="hh" cx="255" cy="275" rx="70" ry="75"/><ellipse class="h" cx="250" cy="270" rx="45" ry="48"/><path class="w" d="M240 240 L350 290 L340 330 L230 290 Z"/><ellipse class="h" cx="345" cy="310" rx="14" ry="22"/><ellipse class="k" cx="330" cy="312" rx="5" ry="5"/><path class="h" d="M60 50 L300 20 L420 30 M100 100 L320 60 L400 90 M40 120 L100 100 L120 200 M300 20 L330 120 L280 180 M440 0 L500 90 L560 70 L520 0"/><path class="hh" d="M150 60 L280 40 M340 60 L400 120 M200 120 L290 110 M460 10 L510 80 M480 5 L530 75"/><path class="h" d="M0 100 L60 80 L80 300 L40 420 L0 440 M20 150 L50 400 M0 480 L60 460 L100 520 L60 560"/><path class="hh" d="M40 560 L100 530 L180 560"/></g>
<g transform="translate(432 425) scale(0.09901)"><path class="hh" d="M330 180 Q215 300 190 480 Q200 620 300 720"/><path class="h" d="M300 200 Q240 320 230 480 Q240 600 320 690 M200 140 Q120 260 95 400 Q110 520 200 640 M150 220 Q110 300 105 400"/><path class="hh" d="M100 300 L170 280 M100 325 L172 305 M102 350 L172 332 M106 375 L176 358 M112 400 L180 384 M120 425 L186 410"/><path class="h" d="M350 170 L420 150 L430 260 L360 290 Z M480 190 L530 175 L535 260 L485 280 Z M400 300 L470 280 M330 300 L360 420 M420 330 L500 300 L560 340 M600 300 L690 270 M590 350 L700 320"/><path class="hh" d="M560 300 L640 280 L640 330 M480 90 L700 290 M500 80 L707 265"/><path class="hh" d="M360 430 L440 410 L455 560 L385 600 Z"/><path class="h" d="M300 420 Q280 520 330 620 M250 380 Q230 500 290 640 M450 430 L707 520 M470 570 L680 660"/><ellipse class="h" cx="665" cy="600" rx="42" ry="48"/><ellipse class="hh" cx="672" cy="606" rx="18" ry="20"/><path class="hh" d="M330 640 L400 620 L420 700 M440 640 L520 660 L560 740 M340 700 L380 757 M420 720 L500 750 M300 560 L360 540"/><path class="h" d="M360 330 l40 -12 l8 50 l-40 12 Z M280 360 l30 -10 l6 60 l-30 10 Z M520 380 l60 -20 M540 420 l50 -16"/></g>
<g transform="translate(495 440) scale(0.11885)"><path class="hh" d="M130 240 L330 170 L440 210 M120 270 L150 250 L160 560 M60 250 L120 240 L130 400"/><ellipse class="hh" cx="270" cy="420" rx="122" ry="132"/><ellipse class="hh" cx="270" cy="420" rx="84" ry="92"/><ellipse class="h" cx="275" cy="415" rx="52" ry="58"/><ellipse class="hh" cx="280" cy="412" rx="30" ry="34"/><path class="w" d="M290 392 L372 432 L362 470 L280 430 Z"/><ellipse class="hh" cx="366" cy="452" rx="12" ry="20"/><path class="h" d="M330 170 L350 260 L440 300 L440 210 M350 260 L300 300 M380 240 L420 280 M180 220 L300 180 L320 240"/><path class="hh" d="M360 200 L430 230 M370 260 L430 290 M200 260 L290 230"/><path class="h" d="M440 300 L500 360 L470 470 L400 600 L260 680 L150 700 L60 660"/><ellipse class="h" cx="500" cy="362" rx="9" ry="9"/><ellipse class="h" cx="385" cy="605" rx="9" ry="9"/><ellipse class="h" cx="205" cy="692" rx="9" ry="9"/><path class="hh" d="M0 330 L60 320 L70 480 L20 560 M20 380 Q60 400 40 450 M0 600 L80 580 L140 640 L120 720 L40 730 M60 620 L110 690"/><path class="h" d="M150 540 Q200 620 300 600 M130 480 Q140 560 200 600"/><path class="hh" d="M100 0 V120 M180 0 V100 L300 60 M20 60 L100 120 L240 100 M0 150 L130 200 M240 0 L260 60 M330 0 L340 90 L420 60"/><path class="h" d="M430 92 L480 62 L560 222 L512 250 Z"/><path class="hh" d="M445 100 L520 240 M460 90 L535 232 M475 80 L548 226"/></g>
<g transform="translate(640 375) scale(0.18120)"><path class="h" d="M128 108 Q130 92 150 92 L185 98 Q198 104 192 118 Q186 138 168 140 L140 134 Q124 126 128 108 Z"/><ellipse class="h" cx="160" cy="116" rx="18" ry="12" transform="rotate(15 160 116)"/><path class="w" d="M140 265 L228 222 L335 240 L512 330 Q548 360 545 410 Q540 480 505 520 Q470 548 350 545"/><path class="l" d="M232 222 v-18 l14 -6 v20 M262 235 v-14"/><path class="l" d="M385 380 Q400 350 440 340 Q500 330 512 330 M400 360 Q380 440 360 540 M420 348 Q395 440 378 542"/><path class="k" d="M326 246 L505 332 L498 346 L320 258 Z"/><path class="t" d="M345 262 L480 328"/><path class="w" d="M140 265 Q105 310 110 380 Q115 420 135 432 L345 545 Q365 500 375 440 Q382 400 385 380 Z"/><path class="l" d="M150 275 Q120 320 124 380 Q128 410 142 420 M135 432 L128 440 L340 552 L345 545"/><path class="g" d="M152 330 L224 360 L224 372 L152 342 Z M152 352 L224 382 L224 394 L152 364 Z M152 374 L224 404 L224 416 L152 386 Z M152 396 L224 426 L224 438 L152 408 Z M152 418 L224 448 L224 460 L152 430 Z M252 378 L330 410 L330 422 L252 390 Z M252 400 L330 432 L330 444 L252 412 Z M252 422 L330 454 L330 466 L252 434 Z M252 444 L330 476 L330 488 L252 456 Z M252 466 L330 498 L330 510 L252 478 Z "/><path class="w" d="M188 150 Q186 132 205 126 L232 124 Q250 128 248 142 L300 182 Q325 215 345 262 L388 330 L350 330 L300 262 Q280 222 255 204 L210 178 Q192 170 188 150 Z"/><ellipse class="h" cx="216" cy="146" rx="22" ry="12" transform="rotate(20 216 146)"/><path class="l" d="M300 182 L292 196 M250 205 L345 320"/><path class="w" d="M470 402 Q520 392 575 408 L578 440 Q530 436 492 444 Q470 430 470 402 Z"/><ellipse class="l" cx="577" cy="424" rx="6" ry="16"/><path class="l" d="M500 462 l18 -6 v26 l-18 6 Z"/><ellipse class="g" cx="440" cy="243" rx="9" ry="8"/><path class="l" d="M448 240 l14 -6 l4 8 l-14 6"/><path class="h" d="M428 250 l10 4"/><ellipse class="h" cx="595" cy="295" rx="9" ry="24" transform="rotate(8 595 295)"/><ellipse class="l" cx="595" cy="295" rx="4" ry="14" transform="rotate(8 595 295)"/><path class="w" d="M618 288 L640 282 L706 318 L704 350 L682 356 L616 320 Z"/><path class="g" d="M640 296 L690 322 V346 L640 320 Z"/><path class="h" d="M628 292 V326 M618 288 L616 320"/><ellipse class="k" cx="720" cy="345" rx="7" ry="7"/><ellipse class="k" cx="746" cy="352" rx="10" ry="9"/><ellipse class="k" cx="692" cy="370" rx="7" ry="7"/><ellipse class="k" cx="726" cy="381" rx="10" ry="9"/><path class="l" d="M700 360 l14 6"/></g>
<g transform="translate(0 0) scale(1.00000)"></g>
<g transform="translate(765 435) scale(0.11325)"><path class="w" d="M190 272 Q195 250 215 245 L280 235 Q300 240 300 262 L298 285 L420 340 L500 375 Q540 392 548 420 L552 440 L500 455 L455 455 L450 420 L420 400 L330 352 L260 330 L200 302 Q186 290 190 272 Z"/><path class="l" d="M215 250 Q205 270 215 290 L290 280 M300 285 L240 292 M320 312 L440 372 M350 350 l20 -8 l16 10 M420 352 l30 12 M440 380 l30 10 l20 -12 M500 375 L470 410 L455 455"/><path class="hh" d="M400 335 l40 18 M430 372 l36 14"/><path class="hh" d="M452 448 L572 438"/><path class="l" d="M508 452 V505 h22 V448"/><path class="k" d="M514 542 h36 v12 h-36 Z"/><ellipse class="hh" cx="95" cy="241" rx="18" ry="18"/><ellipse class="h" cx="135" cy="246" rx="9" ry="9"/></g>
<g transform="translate(600 515) scale(0.20385)"><path class="w" d="M340 135 L372 118 L440 135 L470 165 L520 150 L560 148 L582 170 L575 200 L540 215 L560 235 L545 262 L510 268 L470 255 L440 272 L392 250 L392 215 L345 170 Z"/><path class="h" d="M345 150 L395 128 L430 150 L390 172 Z M350 125 q10 -14 24 -6 M395 140 q10 -14 24 -6"/><ellipse class="h" cx="362" cy="128" rx="12" ry="8"/><ellipse class="h" cx="408" cy="142" rx="12" ry="8"/><path class="h" d="M392 215 L440 190 L470 200 L470 255 M440 190 L430 150 M400 235 L440 215 M405 255 L440 240 M470 200 L520 180 L540 215 M480 215 Q500 200 520 215 Q530 240 510 262"/><ellipse class="h" cx="552" cy="172" rx="18" ry="24" transform="rotate(-15 552 172)"/><ellipse class="l" cx="556" cy="172" rx="10" ry="16" transform="rotate(-15 556 172)"/><path class="h" d="M520 150 L528 196 M500 160 l6 30"/><ellipse class="h" cx="530" cy="246" rx="14" ry="20" transform="rotate(-15 530 246)"/><path class="hh" d="M420 200 l16 8 M425 215 l14 8 M405 270 l20 8 M395 285 l10 6 v18"/><path class="w" d="M446 92 h34 v62 h-34 Z"/><path class="hh" d="M450 95 V152 M456 95 V152 M462 95 V152 M468 95 V152 M474 95 V152"/><ellipse class="h" cx="463" cy="92" rx="17" ry="7"/><path class="h" d="M450 156 h26 v14 h-26 Z M492 150 l14 -4 v16 l-14 4 Z"/><path class="w" d="M470 324 L508 336 L504 348 L466 336 Z M458 368 L496 380 L492 392 L454 380 Z"/><path class="g" d="M504 332 l14 4 l-3 14 l-14 -4 Z M492 376 l14 4 l-3 14 l-14 -4 Z"/><ellipse class="k" cx="440" cy="318" rx="5" ry="5"/><ellipse class="k" cx="436" cy="354" rx="5" ry="5"/><path class="t" d="M410 305 L470 328 M400 338 L458 372"/><path class="hh" d="M552 252 l12 14 M558 248 l12 14 M564 246 l10 14 M548 258 l10 12"/><path class="w" d="M580 268 Q580 256 596 258 L640 262 L652 270 L652 296 L640 312 L612 306 L600 296 L584 292 Z"/><ellipse class="h" cx="590" cy="280" rx="10" ry="14"/><path class="h" d="M622 242 h16 v20 h-16 Z M612 270 L640 280 V310 M626 236 h8"/><path class="hh" d="M618 286 l16 6"/><path class="g" d="M614 64 h26 v26 h-26 Z"/><path class="h" d="M618 64 v26 M624 64 v26 M630 64 v26 M636 64 v26"/><ellipse class="h" cx="627" cy="64" rx="13" ry="5"/><path class="l" d="M614 -5 V18 A13 5 0 0 0 640 18 V-5"/><path class="t" d="M628 22 V240"/><ellipse class="h" cx="648" cy="468" rx="12" ry="6"/><path class="h" d="M655 470 v16"/></g>
<g transform="translate(0 0) scale(1.00000)"><path class="l" d="M645.5 503.2 L716 480.8 Q732 478 732.5 491 L732.5 520 M647.5 509.2 L717 487 Q726 485.5 726.5 493 L726.5 520"/><ellipse class="l" cx="646.5" cy="506.2" rx="1.8" ry="3.2"/><ellipse class="hh" cx="634.3" cy="512.8" rx="3.6" ry="3"/></g>
<g transform="translate(700 570) scale(0.20725)"><path class="l" d="M600 52 L800 85 M590 92 L790 125 M600 52 Q578 56 580 76 Q582 90 590 92"/><ellipse class="h" cx="591" cy="78" rx="5" ry="5"/><path class="l" d="M606 94 l4 8 l8 -2 l-2 -6"/><path class="l" d="M800 82 L890 100 M792 130 L850 140 Q870 140 890 128 M800 82 Q788 100 792 130"/><path class="l" d="M150 282 L360 308 M145 311 L350 346 M150 282 Q134 286 136 300 Q138 310 145 311"/><ellipse class="h" cx="148" cy="298" rx="5" ry="5"/><path class="l" d="M362 304 L470 317 Q540 318 600 282 L760 192 Q830 150 890 116 M352 349 L465 366 Q550 364 612 326 L780 236 Q840 200 890 176 M362 304 Q346 320 352 349"/><path class="l" d="M68 338 L128 310 L134 322 L74 350"/><path class="l" d="M128 310 L134 322"/><path class="h" d="M48 342 l12 -8 l10 10 l-2 14 l-12 6 l-8 -10 Z"/><ellipse class="h" cx="148" cy="207" rx="12" ry="7"/><path class="l" d="M152 214 L156 244 L166 242 L160 212"/><ellipse class="h" cx="232" cy="263" rx="6" ry="11" transform="rotate(-15 232 263)"/><ellipse class="h" cx="186" cy="386" rx="11" ry="5"/><path class="t" d="M160 250 L190 380"/></g>
<g transform="translate(600 525) scale(0.11325)"><path class="w" d="M100 120 Q105 100 130 96 L160 104 Q178 112 172 140 L160 200 L265 150 L262 60 Q265 30 292 22 L322 28 Q345 40 348 80 L352 130 L440 205 L290 290 L285 400 L110 462 Q85 465 80 440 L150 330 L150 240 L110 210 Z"/><path class="h" d="M150 240 L160 200 M172 140 L250 118 M200 150 L335 195 M215 130 L345 178 M262 60 L300 150 L352 130 M300 150 L290 290 M322 28 L330 110 M160 200 L290 262"/><path class="hh" d="M150 232 V322 M230 190 L320 225 M245 175 L330 208"/><path class="h" d="M150 330 L270 300 M215 340 L112 432 M110 462 L270 398 M140 450 L100 440"/><path class="w" d="M290 290 L440 205 L560 200 L700 300 L715 470 L715 505 L600 568 L520 590 L300 500 L285 470 Z"/><path class="h" d="M290 300 Q290 280 312 283 L500 360 Q525 372 525 400 L520 585 Q515 606 490 598 L300 500 Q285 492 285 470 Z"/><path class="hh" d="M332 352 Q334 338 352 342 L462 392 Q482 402 482 422 L480 498 Q476 516 458 510 L350 462 Q332 452 332 432 Z"/><path class="h" d="M350 420 Q350 410 362 414 L424 442 Q434 448 434 458 L434 474 Q432 484 422 480 L360 452 Q350 446 350 436 Z"/><ellipse class="h" cx="302" cy="318" rx="11" ry="11"/><ellipse class="h" cx="498" cy="402" rx="11" ry="11"/><ellipse class="h" cx="490" cy="580" rx="11" ry="11"/><ellipse class="h" cx="306" cy="490" rx="11" ry="11"/><ellipse class="h" cx="410" cy="268" rx="18" ry="12"/><path class="l" d="M392 268 v-16 a18 12 0 0 1 36 0 v16"/><path class="h" d="M440 240 Q510 280 545 385 M454 237 Q524 277 558 378 M469 234 Q539 274 570 371 M484 230 Q554 270 582 365 M498 227 Q568 267 595 358 M512 224 Q582 264 608 351 M527 221 Q597 261 620 344 M542 218 Q612 258 632 337 M556 214 Q626 254 645 331 M570 211 Q640 251 658 324 M585 208 Q655 248 670 317 M600 205 Q670 245 682 310 M614 202 Q684 242 695 303 "/><path class="h" d="M525 388 L545 385 L700 300"/><path class="w" d="M545 400 L692 332 L716 470 L716 504 L600 568 L545 545 Z"/><path class="h" d="M545 400 L692 332 L716 470 L716 504 L600 568 L545 545 Z"/><ellipse class="hh" cx="640" cy="470" rx="52" ry="64" transform="rotate(-8 640 470)"/><ellipse class="h" cx="576" cy="412" rx="8" ry="8"/><ellipse class="h" cx="688" cy="370" rx="8" ry="8"/><ellipse class="h" cx="702" cy="500" rx="8" ry="8"/><ellipse class="h" cx="592" cy="546" rx="8" ry="8"/><ellipse class="k" cx="378" cy="90" rx="8" ry="8"/><path class="w" d="M410 104 L468 124 L462 142 L404 122 Z"/><path class="g" d="M462 120 l24 8 l-6 24 l-24 -8 Z"/><ellipse class="k" cx="160" cy="466" rx="6" ry="6"/><path class="w" d="M200 484 L258 508 L250 526 L194 502 Z"/><path class="g" d="M250 502 l24 10 l-8 22 l-24 -10 Z"/></g>
<g transform="translate(270 530) scale(0.23783)"><path class="w" d="M85 205 L330 322 L655 476 V658 Q580 640 506 618 Q450 590 414 584 Q370 585 323 593 Q220 570 163 538 Q110 510 85 481 Z"/><path class="l" d="M90 199 L660 470 V476 M85 205 L90 199"/><path class="l" d="M330 322 Q318 420 326 520 Q328 570 323 593 M338 326 Q326 420 334 520 Q336 570 331 591"/><path class="h" d="M116 368 L300 458 L300 468 L116 378 Z M116 392 L300 482 L300 492 L116 402 Z M116 416 L285 499 L285 509 L116 426 Z M116 440 L268 514 L268 524 L116 450 Z M116 464 L250 530 L250 540 L116 474 Z "/><path class="h" d="M148 335 h20 v36 h-20 Z M240 384 h15 v32 h-15 Z"/><ellipse class="k" cx="93" cy="245" rx="4" ry="5"/><ellipse class="k" cx="93" cy="438" rx="4" ry="5"/><ellipse class="k" cx="640" cy="512" rx="4" ry="5"/><ellipse class="k" cx="640" cy="605" rx="4" ry="5"/><ellipse class="k" cx="393" cy="400" rx="15" ry="16"/><ellipse class="w" cx="395" cy="400" rx="6" ry="7"/><ellipse class="k" cx="394" cy="447" rx="15" ry="16"/><ellipse class="w" cx="396" cy="447" rx="6" ry="7"/><ellipse class="k" cx="396" cy="495" rx="15" ry="16"/><ellipse class="w" cx="398" cy="495" rx="6" ry="7"/><ellipse class="l" cx="485" cy="511" rx="8" ry="11" transform="rotate(20 485 511)"/><ellipse class="l" cx="400" cy="546" rx="7" ry="9" transform="rotate(20 400 546)"/><ellipse class="l" cx="565" cy="553" rx="8" ry="11" transform="rotate(20 565 553)"/><path class="w" d="M435 88 L490 55 L680 150 V180 L662 190 V250 L680 240 V265 L625 295 L435 200 Z"/><path class="l" d="M435 88 L625 182 L680 150 M625 182 V295 M447 100 V192 L500 165 V112 M500 165 L625 228 M447 192 L470 204"/><path class="h" d="M458 125 l22 -10 l10 8 v14 l-22 10 Z"/><ellipse class="h" cx="470" cy="170" rx="8" ry="7"/><ellipse class="h" cx="612" cy="268" rx="9" ry="7"/><path class="t" d="M612 200 V260"/><path class="t" d="M555 72 l30 -10 M690 200 l30 -14"/><path class="h" d="M583 62 l8 -3 M712 188 l10 -4"/><path class="w" d="M214 200 L246 180 Q258 184 258 196 L228 218 Z"/><ellipse class="h" cx="222" cy="208" rx="9" ry="12" transform="rotate(-25 222 208)"/><path class="w" d="M290 176 L345 180 L386 215 V295 L290 246 Z"/><path class="l" d="M290 176 L300 215 L386 258 M300 215 V250 M280 205 l10 5"/><ellipse class="h" cx="375" cy="260" rx="4" ry="6"/><path class="l" d="M340 170 l8 -4 M395 240 l10 -4"/><path class="w" d="M415 270 L432 262 L456 272 V300 L440 308 L415 298 Z"/><path class="l" d="M415 270 L440 280 L456 272 M440 280 V308"/><path class="h" d="M432 258 l10 -3 M446 262 l10 -3"/><path class="g" d="M368 100 L385 112 L405 126 L388 122 L372 112 Z"/><path class="hh" d="M372 96 l10 8"/><ellipse class="hh" cx="610" cy="336" rx="19" ry="14"/><ellipse class="h" cx="610" cy="334" rx="8" ry="5"/><path class="h" d="M594 342 Q610 356 626 342"/><path class="t" d="M612 350 V378"/><ellipse class="h" cx="650" cy="432" rx="12" ry="18" transform="rotate(-10 650 432)"/><ellipse class="l" cx="651" cy="432" rx="4" ry="6" transform="rotate(-10 651 432)"/><ellipse class="hh" cx="752" cy="460" rx="11" ry="14" transform="rotate(-15 752 460)"/><path class="t" d="M662 425 L700 405 M740 455 L690 478 L662 492"/></g>
<g transform="translate(200 620) scale(0.27180)"><path class="k" d="M180 84 L208 74 L230 84 V108 L204 120 L180 108 Z"/><path class="w" d="M186 86 L208 79 L224 86 L204 94 Z"/><path class="h" d="M230 88 l7 -2 M230 98 l7 -2 M230 106 l6 -2"/><path class="k" d="M238 142 L256 134 L270 140 V160 L254 168 L238 162 Z"/><path class="w" d="M243 143 L256 138 L265 142 L253 148 Z"/><ellipse class="h" cx="378" cy="268" rx="10" ry="14" transform="rotate(-15 378 268)"/><ellipse class="l" cx="378" cy="268" rx="3" ry="5" transform="rotate(-15 378 268)"/><path class="w" d="M302 290 L330 272 Q352 274 356 292 L330 314 Q308 316 302 290 Z"/><ellipse class="h" cx="318" cy="298" rx="15" ry="19" transform="rotate(-25 318 298)"/><path class="h" d="M310 284 L322 312 M316 280 L330 310 M324 278 L338 306 M332 274 L346 300"/><path class="h" d="M416 232 Q420 224 432 226 L436 238 Q428 246 418 242 Z"/><path class="l" d="M424 244 l4 12 M432 240 l4 12"/><ellipse class="hh" cx="472" cy="212" rx="9" ry="12" transform="rotate(-15 472 212)"/><ellipse class="k" cx="505" cy="276" rx="7" ry="9" transform="rotate(-15 505 276)"/><ellipse class="w" cx="505" cy="276" rx="2" ry="3"/><path class="w" d="M524 254 L560 240 L566 252 L530 268 Z"/><ellipse class="h" cx="530" cy="261" rx="7" ry="9" transform="rotate(-20 530 261)"/><ellipse class="h" cx="562" cy="246" rx="5" ry="8" transform="rotate(-20 562 246)"/><path class="w" d="M572 228 L584 214 L602 216 L610 232 L598 248 L580 246 Z"/><ellipse class="h" cx="592" cy="232" rx="9" ry="11" transform="rotate(-15 592 232)"/><ellipse class="hh" cx="636" cy="208" rx="11" ry="13" transform="rotate(-15 636 208)"/><path class="t" d="M390 262 L676 120 M548 248 L748 154"/><ellipse class="k" cx="822" cy="115" rx="3" ry="4"/><ellipse class="k" cx="822" cy="198" rx="3" ry="4"/></g>
<g transform="translate(0 0) scale(1.00000)"><path class="l" d="M227.7 720 L232.6 725.3 L237.5 720 M256.3 720 L261.2 725.3 L266 720 M283.6 720 L288.9 725.3 L293.8 720"/></g>
<g transform="translate(440 570) scale(0.38505)"><path class="l" d="M6 128 L100 80 L230 55 Q272 48 273 82 L273 112 M12 142 L102 94 L230 68 Q259 64 260 86 L260 112"/><path class="w" d="M-20 141 L8 127 L14 141 L-14 155 Z"/><path class="h" d="M-10 136 L-4 150 M-2 132 L4 146"/><ellipse class="h" cx="-17" cy="148" rx="4" ry="7" transform="rotate(-25 -17 148)"/><path class="w" d="M258 112 h17 v36 h-17 Z"/><path class="l" d="M258 124 h17 M258 136 h17"/><path class="g" d="M262 148 L274 150 L276 162 L262 166 L246 170 L240 160 L252 154 Z"/><path class="h" d="M238 158 l-6 4 l4 8 l6 -4"/><path class="w" d="M393 282 L397 180 Q399 165 412 163 L442 157 Q453 157 453 170 L453 238 L441 241 L441 174 L412 180 Q409 181 409 188 L406 286 Z"/><path class="l" d="M397 180 L409 186"/><path class="w" d="M312 300 L345 284 L458 344 V450 L415 470 L312 416 Z"/><path class="l" d="M312 300 L425 360 L458 344 M425 360 V376 L415 382 V470 M312 316 L415 370 L425 376 M425 376 L458 360"/><path class="hh" d="M343 288 l6 3 M358 294 l6 3 M428 334 l6 3 M443 340 l6 3"/><path class="t" d="M330 292 L420 340"/><ellipse class="k" cx="326" cy="275" rx="4" ry="4"/><ellipse class="h" cx="340" cy="283" rx="3" ry="3"/><ellipse class="g" cx="485" cy="363" rx="5" ry="5"/><ellipse class="k" cx="470" cy="355" rx="3" ry="3"/><path class="w" d="M518 408 Q520 392 540 394 L552 398 L606 352 L616 362 L560 410 Q560 432 540 436 Q518 434 518 408 Z"/><path class="l" d="M522 414 Q535 398 552 404 M552 398 L560 410"/><path class="hh" d="M576 378 L590 366 M582 386 L598 372 M600 354 L612 346"/><path class="w" d="M612 346 L620 326 Q640 314 654 330 L656 356 Q650 368 636 366 L624 362 Z"/><path class="l" d="M630 330 Q645 330 650 350 M620 340 L640 364"/><path class="w" d="M602 440 Q604 424 624 426 L636 430 L704 378 L712 372 Q722 368 724 378 L724 388 L716 390 L714 382 L646 440 Q646 462 624 466 Q602 464 602 440 Z"/><path class="l" d="M606 446 Q620 430 638 436 M636 430 L646 440 M660 412 L668 420"/><ellipse class="h" cx="721" cy="385" rx="4" ry="5"/><path class="hh" d="M734 398 l10 4 M738 396 l2 10"/><path class="h" d="M744 404 l8 4"/></g>
<g id="labels" style="filter:grayscale(1)"><path class="ld" d="M145.3 70.0 H164.1 M164.1 70.0 L173.0 83.6"/><text transform="translate(154.7 67.4) scale(0.6 1)">9</text>
<path class="ld" d="M328.4 60.0 H349.1 M328.4 60.0 L301.4 92.4"/><text transform="translate(338.8 57.4) scale(0.6 1)">15</text>
<path class="ld" d="M374.1 66.5 H400.0 M374.1 66.5 L366.1 79.8"/><text transform="translate(389.7 63.9) scale(0.6 1)">16</text>
<path class="ld" d="M375.6 80.3 H400.0 M375.6 80.3 L366.7 92.4"/><text transform="translate(389.7 77.7) scale(0.6 1)">17</text>
<path class="ld" d="M378.5 94.5 H400.0 M378.5 94.5 L368.5 98.3"/><text transform="translate(389.7 91.9) scale(0.6 1)">18</text>
<path class="ld" d="M380.0 110.7 H400.0 M380.0 110.7 L368.5 108.3"/><text transform="translate(389.7 108.1) scale(0.6 1)">19</text>
<path class="ld" d="M190.6 21.2 H212.1 M212.1 21.2 L217.7 13.8"/><text transform="translate(201.4 18.6) scale(0.6 1)">11</text>
<path class="ld" d="M186.5 38.9 H203.3 M203.3 38.9 L216.0 23.6"/><text transform="translate(194.9 36.3) scale(0.6 1)">10</text>
<path class="ld" d="M261.3 15.3 H281.3 M261.3 15.3 L261.3 36.8"/><text transform="translate(271.3 12.7) scale(0.6 1)">12</text>
<path class="ld" d="M289.6 12.7 H310.2 M289.6 12.7 L286.3 23.0"/><text transform="translate(299.9 10.1) scale(0.6 1)">13</text>
<path class="ld" d="M316.7 34.5 H336.7 M316.7 34.5 L300.5 50.6"/><text transform="translate(326.7 31.9) scale(0.6 1)">14</text>
<path class="ld" d="M101.1 103.0 H119.8 M101.1 103.0 L96.9 118.7"/><text transform="translate(110.5 100.4) scale(0.6 1)">7</text>
<path class="ld" d="M124.3 103.0 H142.3 M124.3 103.0 L124.3 122.4"/><text transform="translate(133.3 100.4) scale(0.6 1)">8</text>
<path class="ld" d="M141.0 172.7 H158.4 M158.4 172.7 L163.4 147.3"/><text transform="translate(149.7 170.1) scale(0.6 1)">6</text>
<path class="ld" d="M164.2 166.0 H180.9 M180.9 166.0 L183.4 143.6"/><text transform="translate(172.5 163.4) scale(0.6 1)">5</text>
<path class="ld" d="M167.9 179.7 H185.4 M185.4 179.7 L193.8 146.8"/><text transform="translate(176.6 177.1) scale(0.6 1)">4</text>
<path class="ld" d="M180.9 190.4 H198.3 M198.3 190.4 L202.8 166.0"/><text transform="translate(189.6 187.8) scale(0.6 1)">3</text>
<path class="ld" d="M254.9 181.7 H273.1 M254.9 181.7 L249.9 167.8"/><text transform="translate(264.0 179.1) scale(0.6 1)">1</text>
<path class="ld" d="M233.2 193.9 H251.4 M233.2 193.9 L227.5 181.0"/><text transform="translate(242.3 191.3) scale(0.6 1)">2</text>
<path class="ld" d="M97.2 207.8 H115.9 M97.2 207.8 L72.3 186.1"/><text transform="translate(106.5 205.2) scale(0.6 1)">69</text>
<path class="ld" d="M96.7 227.7 H115.4 M115.4 227.7 L123.3 214.7"/><text transform="translate(106.0 225.1) scale(0.6 1)">68</text>
<path class="ld" d="M100.4 243.4 H119.1 M119.1 243.4 L135.8 217.2"/><text transform="translate(109.8 240.8) scale(0.6 1)">54</text>
<path class="ld" d="M96.7 264.1 H115.4 M115.4 264.1 L159.5 226.0"/><text transform="translate(106.0 261.5) scale(0.6 1)">67</text>
<path class="ld" d="M14.5 274.0 H33.6 M14.5 274.0 L13.7 305.7"/><text transform="translate(24.0 271.4) scale(0.6 1)">64</text>
<path class="ld" d="M37.9 274.0 H56.8 M37.9 274.0 L37.9 300.7"/><text transform="translate(47.3 271.4) scale(0.6 1)">65</text>
<path class="ld" d="M59.3 274.0 H78.5 M59.3 274.0 L49.8 297.0"/><text transform="translate(68.9 271.4) scale(0.6 1)">66</text>
<path class="ld" d="M197.1 462.3 H215.7 M215.7 462.3 L215.7 436.2"/><text transform="translate(206.4 459.7) scale(0.6 1)">54</text>
<path class="ld" d="M220.8 462.3 H239.5 M239.5 462.3 L254.8 356.0"/><text transform="translate(230.2 459.7) scale(0.6 1)">58</text>
<path class="ld" d="M245.3 462.3 H264.3 M264.3 462.3 L265.0 376.4"/><text transform="translate(254.8 459.7) scale(0.6 1)">57</text>
<path class="ld" d="M68.5 471.7 H86.8 M68.5 471.7 L64.7 455.5"/><text transform="translate(77.7 469.1) scale(0.6 1)">63</text>
<path class="ld" d="M90.6 471.7 H108.9 M90.6 471.7 L85.8 448.6"/><text transform="translate(100.3 469.1) scale(0.6 1)">62</text>
<path class="ld" d="M118.6 471.7 H136.5 M118.6 471.7 L102.4 442.0"/><text transform="translate(127.2 469.1) scale(0.6 1)">61</text>
<path class="ld" d="M140.7 471.7 H158.6 M158.6 471.7 L159.4 447.0"/><text transform="translate(149.4 469.1) scale(0.6 1)">60</text>
<path class="ld" d="M168.2 462.4 H186.9 M186.9 462.4 L197.5 390.8"/><text transform="translate(176.7 459.8) scale(0.6 1)">59</text>
<path class="ld" d="M305.4 213.4 H321.2 M305.4 213.4 L278.4 248.3"/><text transform="translate(313.3 210.8) scale(0.6 1)">5</text>
<path class="ld" d="M415.7 416.3 H435.4 M415.7 416.3 L406.2 397.3"/><text transform="translate(425.6 413.7) scale(0.6 1)">51</text>
<path class="ld" d="M363.4 439.5 H382.8 M363.4 439.5 L357.4 434.4"/><text transform="translate(373.4 436.9) scale(0.6 1)">52</text>
<path class="ld" d="M363.4 453.5 H382.8 M363.4 453.5 L358.9 448.6"/><text transform="translate(373.4 450.9) scale(0.6 1)">53</text>
<path class="ld" d="M363.4 468.5 H382.8 M363.4 468.5 L358.5 462.5"/><text transform="translate(373.4 465.9) scale(0.6 1)">54</text>
<path class="ld" d="M363.4 489.2 H382.8 M363.4 489.2 L354.7 484.4"/><text transform="translate(373.4 486.6) scale(0.6 1)">55</text>
<path class="ld" d="M363.4 508.4 H382.8 M363.4 508.4 L347.1 499.7"/><text transform="translate(373.4 505.8) scale(0.6 1)">56</text>
<path class="ld" d="M403.8 476.5 H420.8 M420.8 476.5 L424.1 486.6"/><text transform="translate(412.3 473.9) scale(0.6 1)">45</text>
<path class="ld" d="M449.0 232.1 H466.3 M466.3 232.1 L496.1 259.0"/><text transform="translate(457.7 229.5) scale(0.6 1)">22</text>
<path class="ld" d="M434.3 247.1 H452.1 M452.1 247.1 L456.1 275.6"/><text transform="translate(443.2 244.5) scale(0.6 1)">21</text>
<path class="ld" d="M423.6 264.9 H441.4 M441.4 264.9 L454.5 304.1"/><text transform="translate(432.5 262.3) scale(0.6 1)">20</text>
<path class="ld" d="M544.4 312.1 H562.4 M562.4 312.1 L572.6 343.6"/><text transform="translate(553.4 309.5) scale(0.6 1)">23</text>
<path class="ld" d="M629.0 368.7 H647.4 M629.0 368.7 L608.0 379.6"/><text transform="translate(638.2 366.1) scale(0.6 1)">44</text>
<path class="ld" d="M629.0 386.4 H647.4 M629.0 386.4 L617.7 393.9"/><text transform="translate(638.2 383.8) scale(0.6 1)">45</text>
<path class="ld" d="M685.4 379.4 H703.0 M685.4 379.4 L671.8 395.4"/><text transform="translate(694.2 376.8) scale(0.6 1)">43</text>
<path class="ld" d="M608.0 414.8 H627.0 M608.0 414.8 L585.4 451.0"/><text transform="translate(617.5 412.2) scale(0.6 1)">46</text>
<path class="ld" d="M608.0 434.4 H627.0 M608.0 434.4 L592.0 453.0"/><text transform="translate(617.5 431.8) scale(0.6 1)">47</text>
<path class="ld" d="M603.9 476.5 H624.3 M603.9 476.5 L597.5 468.0"/><text transform="translate(614.1 473.9) scale(0.6 1)">48</text>
<path class="ld" d="M581.6 494.2 H601.0 M581.6 494.2 L564.4 510.5"/><text transform="translate(591.3 491.6) scale(0.6 1)">49</text>
<path class="ld" d="M538.6 541.7 H558.5 M538.6 541.7 L523.7 514.5"/><text transform="translate(548.5 539.1) scale(0.6 1)">50</text>
<path class="ld" d="M417.7 534.4 H435.3 M417.7 534.4 L405.4 545.8"/><text transform="translate(426.5 531.8) scale(0.6 1)">70</text>
<path class="ld" d="M705.2 393.1 H725.2 M705.2 393.1 L694.4 414.0"/><text transform="translate(716.1 390.5) scale(0.6 1)">42</text>
<path class="ld" d="M726.1 406.2 H744.7 M726.1 406.2 L720.6 418.1"/><text transform="translate(735.1 403.6) scale(0.6 1)">41</text>
<path class="ld" d="M749.6 406.2 H768.3 M749.6 406.2 L748.4 423.9"/><text transform="translate(759.2 403.6) scale(0.6 1)">40</text>
<path class="ld" d="M770.5 412.1 H788.9 M770.5 412.1 L760.5 427.5"/><text transform="translate(779.9 409.5) scale(0.6 1)">39</text>
<path class="ld" d="M785.2 415.5 H808.2 M785.2 415.5 L772.5 435.4"/><text transform="translate(799.0 412.9) scale(0.6 1)">17</text>
<path class="ld" d="M785.9 430.9 H808.2 M785.9 430.9 L778.4 440.2"/><text transform="translate(799.0 428.3) scale(0.6 1)">38</text>
<path class="ld" d="M799.0 448.8 H816.5 M799.0 448.8 L779.7 461.6"/><text transform="translate(807.8 446.2) scale(0.6 1)">56</text>
<path class="ld" d="M820.5 459.3 H838.6 M820.5 459.3 L800.7 470.3"/><text transform="translate(829.5 456.7) scale(0.6 1)">37</text>
<path class="ld" d="M834.0 491.6 H851.6 M834.0 491.6 L826.7 496.7"/><text transform="translate(842.8 489.0) scale(0.6 1)">54</text>
<path class="ld" d="M744.7 494.4 H763.6 M744.7 494.4 L731.0 499.6"/><text transform="translate(754.0 491.8) scale(0.6 1)">33</text>
<path class="ld" d="M743.7 526.2 H763.1 M743.7 526.2 L731.5 530.9"/><text transform="translate(753.9 523.6) scale(0.6 1)">32</text>
<path class="ld" d="M743.7 546.0 H763.1 M743.7 546.0 L716.6 567.0"/><text transform="translate(753.9 543.4) scale(0.6 1)">31</text>
<path class="ld" d="M743.7 564.9 H763.1 M743.7 564.9 L732.9 573.1"/><text transform="translate(753.9 562.3) scale(0.6 1)">30</text>
<path class="ld" d="M619.9 615.6 H638.4 M619.9 615.6 L617.0 580.0"/><text transform="translate(629.1 613.0) scale(0.6 1)">36</text>
<path class="ld" d="M646.9 615.6 H665.8 M646.9 615.6 L629.8 583.5"/><text transform="translate(656.3 613.0) scale(0.6 1)">35</text>
<path class="ld" d="M675.0 615.6 H693.9 M675.0 615.6 L673.3 585.0"/><text transform="translate(684.5 613.0) scale(0.6 1)">34</text>
<path class="ld" d="M739.0 600.8 H758.4 M739.0 600.8 L733.0 612.4"/><text transform="translate(748.7 598.2) scale(0.6 1)">29</text>
<path class="ld" d="M754.0 617.0 H772.0 M754.0 617.0 L748.6 623.0"/><text transform="translate(763.0 614.4) scale(0.6 1)">28</text>
<path class="ld" d="M688.5 658.5 H707.0 M707.0 658.5 L713.2 644.3"/><text transform="translate(697.8 655.9) scale(0.6 1)">27</text>
<path class="ld" d="M716.5 666.0 H734.6 M734.6 666.0 L738.0 652.5"/><text transform="translate(725.5 663.4) scale(0.6 1)">26</text>
<path class="ld" d="M744.0 666.0 H762.5 M762.5 666.0 L763.4 640.0"/><text transform="translate(753.2 663.4) scale(0.6 1)">25</text>
<path class="ld" d="M840.7 643.0 H859.2 M859.2 643.0 L859.2 617.0"/><text transform="translate(850.0 640.4) scale(0.6 1)">24</text>
<path class="ld" d="M318.2 534.5 H336.6 M336.6 534.5 L361.6 555.0"/><text transform="translate(327.4 531.9) scale(0.6 1)">74</text>
<path class="ld" d="M339.4 534.5 H357.0 M357.0 534.5 L359.5 552.0"/><text transform="translate(348.2 531.9) scale(0.6 1)">73</text>
<path class="ld" d="M364.3 534.5 H382.6 M382.6 534.5 L387.0 545.0"/><text transform="translate(373.5 531.9) scale(0.6 1)">72</text>
<path class="ld" d="M387.5 534.5 H405.9 M405.9 534.5 L410.0 545.0"/><text transform="translate(396.7 531.9) scale(0.6 1)">71</text>
<path class="ld" d="M319.0 545.9 H337.8 M337.8 545.9 L372.7 592.3"/><text transform="translate(328.4 543.3) scale(0.6 1)">75</text>
<path class="ld" d="M319.0 557.7 H337.8 M337.8 557.7 L352.9 571.2"/><text transform="translate(328.4 555.1) scale(0.6 1)">76</text>
<path class="ld" d="M319.0 569.9 H337.8 M337.8 569.9 L339.6 572.5"/><text transform="translate(328.4 567.3) scale(0.6 1)">77</text>
<path class="ld" d="M295.8 569.9 H315.0 M315.0 569.9 L322.3 575.2"/><text transform="translate(305.4 567.3) scale(0.6 1)">78</text>
<path class="ld" d="M266.0 573.2 H284.8 M284.8 573.2 L290.5 581.3"/><text transform="translate(275.4 570.6) scale(0.6 1)">79</text>
<path class="ld" d="M266.0 597.7 H284.8 M284.8 597.7 L291.7 587.5"/><text transform="translate(275.4 595.1) scale(0.6 1)">80</text>
<path class="ld" d="M263.2 625.4 H281.5 M263.2 625.4 L255.0 639.6"/><text transform="translate(272.4 622.8) scale(0.6 1)">81</text>
<path class="ld" d="M269.3 645.4 H287.7 M269.3 645.4 L267.3 656.0"/><text transform="translate(278.5 642.8) scale(0.6 1)">82</text>
<path class="ld" d="M269.3 676.3 H287.7 M287.7 676.3 L301.9 689.4"/><text transform="translate(278.5 673.7) scale(0.6 1)">83</text>
<path class="ld" d="M266.0 694.3 H284.8 M284.8 694.3 L290.5 699.6"/><text transform="translate(275.4 691.7) scale(0.6 1)">84</text>
<path class="ld" d="M293.8 720.0 H310.1 M310.1 720.0 L315.0 686.0"/><text transform="translate(302.0 717.4) scale(0.6 1)">85</text>
<path class="ld" d="M329.6 712.6 H347.6 M329.6 712.6 L329.6 681.2"/><text transform="translate(338.6 710.0) scale(0.6 1)">89</text>
<path class="ld" d="M351.7 710.6 H370.4 M351.7 710.6 L340.7 696.7"/><text transform="translate(361.0 708.0) scale(0.6 1)">31</text>
<path class="ld" d="M373.3 705.7 H391.6 M373.3 705.7 L361.0 688.6"/><text transform="translate(382.5 703.1) scale(0.6 1)">90</text>
<path class="ld" d="M373.3 692.6 H391.6 M373.3 692.6 L367.2 681.2"/><text transform="translate(382.5 690.0) scale(0.6 1)">91</text>
<path class="ld" d="M443.8 673.1 H463.0 M443.8 673.1 L425.0 636.4"/><text transform="translate(453.4 670.5) scale(0.6 1)">92</text>
<path class="ld" d="M456.0 661.7 H475.2 M456.0 661.7 L449.5 642.5"/><text transform="translate(465.6 659.1) scale(0.6 1)">93</text>
<path class="ld" d="M471.1 639.6 H490.3 M471.1 639.6 L420.2 611.9"/><text transform="translate(480.7 637.0) scale(0.6 1)">94</text>
<path class="ld" d="M483.3 622.1 H502.5 M483.3 622.1 L477.2 607.0"/><text transform="translate(492.9 619.5) scale(0.6 1)">95</text>
<path class="ld" d="M536.4 667.7 H555.0 M555.0 667.7 L594.0 656.6"/><text transform="translate(545.7 665.1) scale(0.6 1)">96</text>
<path class="ld" d="M536.4 682.5 H555.0 M555.0 682.5 L565.2 677.2"/><text transform="translate(545.7 679.9) scale(0.6 1)">97</text>
<path class="ld" d="M536.4 697.7 H555.0 M555.0 697.7 L567.3 714.2"/><text transform="translate(545.7 695.1) scale(0.6 1)">98</text>
<path class="ld" d="M629.0 690.7 H650.7 M629.0 690.7 L627.7 708.8"/><text transform="translate(639.9 688.1) scale(0.6 1)">102</text>
<path class="ld" d="M619.9 744.2 H637.2 M637.2 744.2 L643.3 730.6"/><text transform="translate(628.5 741.6) scale(0.6 1)">99</text>
<path class="ld" d="M645.4 748.3 H664.7 M664.7 748.3 L668.0 712.9"/><text transform="translate(655.0 745.7) scale(0.6 1)">100</text>
<path class="ld" d="M709.1 748.3 H727.6 M709.1 748.3 L709.1 720.3"/><text transform="translate(718.4 745.7) scale(0.6 1)">101</text>
<path class="ld" d="M733.8 743.8 H751.0 M733.8 743.8 L727.6 726.5"/><text transform="translate(742.4 741.2) scale(0.6 1)">80</text>
<path class="ld" d="M210.2 720.0 H227.7"/><text transform="translate(218.9 717.4) scale(0.6 1)">88</text>
<path class="ld" d="M237.5 720.0 H256.3"/><text transform="translate(246.9 717.4) scale(0.6 1)">87</text>
<path class="ld" d="M266.0 720.0 H283.6"/><text transform="translate(274.8 717.4) scale(0.6 1)">86</text></g>
</svg></body></html>
